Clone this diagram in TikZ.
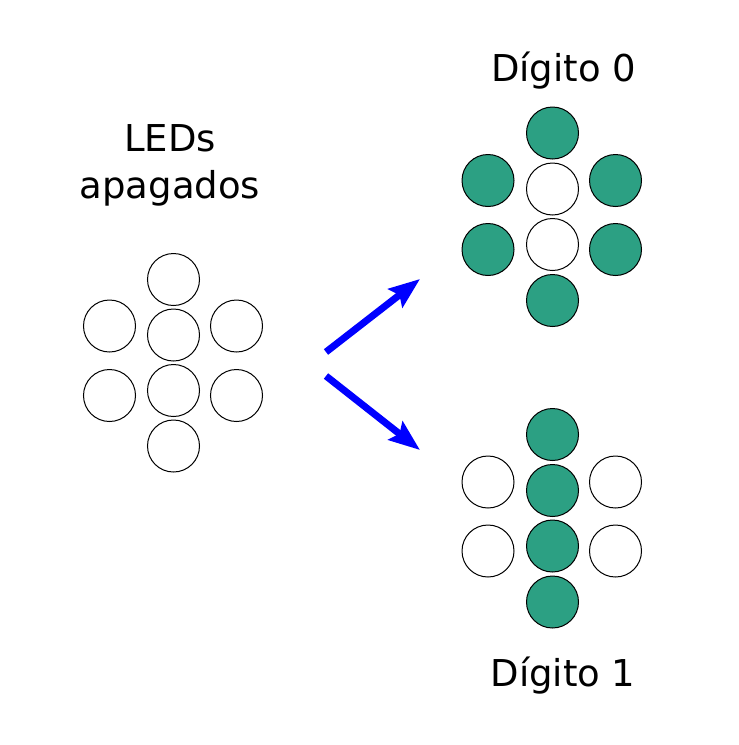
\documentclass[tikz,border=0pt]{standalone}
\usepackage{fontspec}
\setmainfont{DejaVu Sans}
\usetikzlibrary{arrows.meta}
\definecolor{ledgreen}{RGB}{44,160,131}
\begin{document}
\begin{tikzpicture}[x=1pt,y=-1pt,
  led/.style={circle,draw=black,line width=1pt,minimum size=52pt,inner sep=0pt},
  ledon/.style={led,fill=ledgreen},
  ledoff/.style={led,fill=white},
  lbl/.style={font=\fontsize{37}{44}\selectfont,anchor=base,inner sep=0pt},
  arr/.style={draw=blue,line width=7pt,-{Stealth[length=31pt,width=23pt,inset=5pt]}}]
\useasboundingbox (0,0) rectangle (739,745);
% labels
\node[lbl] (t1) at (170,151.7) {LEDs};
\node[lbl] (t2) at (170,198.3) {apagados};
\node[lbl] (t3) at (563.5,81.7) {Dígito 0};
\node[lbl] (t4) at (563,686.7) {Dígito 1};
% left cluster: all off
\node[ledoff] (La) at (173.5,279.5) {};
\node[ledoff] (Lb) at (109.5,326) {};
\node[ledoff] (Lc) at (236.5,326) {};
\node[ledoff] (Ld) at (173.5,335) {};
\node[ledoff] (Le) at (173.5,390.5) {};
\node[ledoff] (Lf) at (109.5,395.5) {};
\node[ledoff] (Lg) at (236.5,395.5) {};
\node[ledoff] (Lh) at (173.5,446) {};
% top right cluster: digit 0
\node[ledon]  (Za) at (552.5,133) {};
\node[ledon]  (Zb) at (488,180.5) {};
\node[ledon]  (Zc) at (615.5,180.5) {};
\node[ledoff] (Zd) at (552.5,189) {};
\node[ledoff] (Ze) at (552.5,244.5) {};
\node[ledon]  (Zf) at (488,249.5) {};
\node[ledon]  (Zg) at (615.5,249.5) {};
\node[ledon]  (Zh) at (552.5,300.5) {};
% bottom right cluster: digit 1
\node[ledon]  (Oa) at (552.5,434.5) {};
\node[ledoff] (Ob) at (488,482) {};
\node[ledoff] (Oc) at (615.5,482) {};
\node[ledon]  (Od) at (552.5,490.5) {};
\node[ledon]  (Oe) at (552.5,546) {};
\node[ledoff] (Of) at (488,551) {};
\node[ledoff] (Og) at (615.5,551) {};
\node[ledon]  (Oh) at (552.5,602) {};
% arrows
\coordinate (a1s) at (326,352);
\coordinate (a1e) at (420,279);
\coordinate (a2s) at (326,376);
\coordinate (a2e) at (420,450);
\draw[arr] (a1s) -- (a1e);
\draw[arr] (a2s) -- (a2e);
\end{tikzpicture}
\end{document}
